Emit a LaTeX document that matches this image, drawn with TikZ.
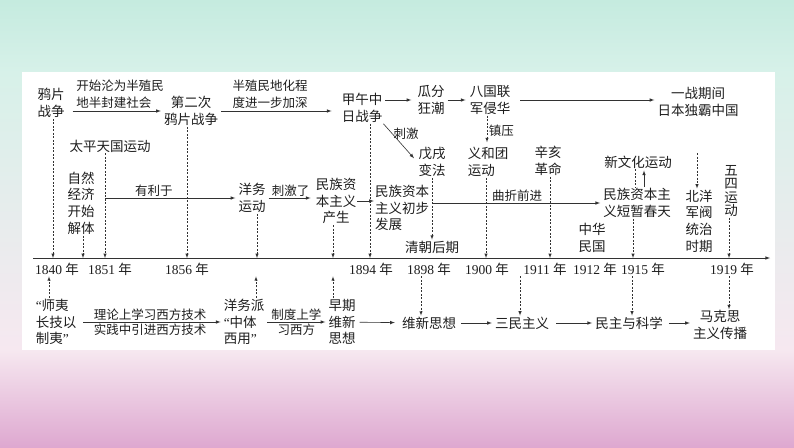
\documentclass[tikz,border=0pt]{standalone}
\usepackage{fontspec}
\setmainfont{Liberation Serif}
\newfontfamily\cjk{Noto Sans CJK SC}
\usetikzlibrary{positioning}

\definecolor{bgMintA}{RGB}{197,235,223}
\definecolor{bgMintB}{RGB}{215,241,233}
\definecolor{bgPinkA}{RGB}{246,232,240}
\definecolor{bgPinkB}{RGB}{222,168,208}
\definecolor{inkC}{RGB}{30,30,30}
\definecolor{lineC}{RGB}{50,50,50}

\newcommand{\yr}[1]{#1\ {\cjk 年}}
\newcommand{\qopen}{{\rmfamily “}}
\newcommand{\qclose}{{\rmfamily ”}}

\begin{document}
\begin{tikzpicture}[x=1pt,y=-1pt,
	    evt/.style= {align=center, inner sep=1pt, text=inkC,
	        font=\fontsize{13.5}{16.7}\selectfont\cjk},
	    lbl/.style= {inner sep=1.5pt, text=inkC, align=left,
	        font=\fontsize{12.5}{16.7}\selectfont\cjk},
	    yrlbl/.style= {inner sep=1pt, text=inkC,
	        font=\fontsize{13.5}{16}\selectfont},
	    flow/.style= {-latex, line width=0.6pt, draw=lineC,
	        shorten <=2pt, shorten >=2pt},
	    drop/.style= {-latex, line width=0.5pt, draw=lineC,
	        dash pattern=on 2pt off 1.5pt},
	    dropline/.style= {line width=0.5pt, draw=lineC,
	        dash pattern=on 2pt off 1.5pt}]

		% Background
		\useasboundingbox (0,0) rectangle (794,447);
		\shade[top color=bgMintA, bottom color=bgMintB] (0,0) rectangle (794,72);
		\shade[top color=bgMintB, bottom color=bgPinkA] (0,72) rectangle (794,350);
		\shade[top color=bgPinkA, bottom color=bgPinkB] (0,350) rectangle (794,447);
		\fill[white] (22,72) rectangle (775,350);

		% Time axis
		\coordinate (t0) at (33,258);
		\coordinate (t1) at (770,258);
		\draw[flow, shorten <=0pt, shorten >=0pt] (t0) -- (t1);

		% Years
		\node[yrlbl] (y1840) at (57,269) {\yr{1840}};
		\node[yrlbl] (y1851) at (110,269) {\yr{1851}};
		\node[yrlbl] (y1856) at (187,269) {\yr{1856}};
		\node[yrlbl] (y1894) at (371,269) {\yr{1894}};
		\node[yrlbl] (y1898) at (429,269) {\yr{1898}};
		\node[yrlbl] (y1900) at (487,269) {\yr{1900}};
		\node[yrlbl] (y1911) at (545,269) {\yr{1911}};
		\node[yrlbl] (y1912) at (595,269) {\yr{1912}};
		\node[yrlbl] (y1915) at (643,269) {\yr{1915}};
		\node[yrlbl] (y1919) at (732,269) {\yr{1919}};

		% Upper events
		\node[evt] (yapian) at (51,103) {鸦片\\战争};
		\node[evt] (erci) at (191,111) {第二次\\鸦片战争};
		\node[evt] (jiawu) at (362,108) {甲午中\\日战争};
		\node[evt] (guafen) at (431,100) {瓜分\\狂潮};
		\node[evt] (baguo) at (490,100) {八国联\\军侵华};
		\node[evt] (yizhan) at (698,102) {一战期间\\日本独霸中国};

		\node[evt] (taiping) at (110,146) {太平天国运动};
		\node[evt] (wuxu) at (432,162) {戊戌\\变法};
		\node[evt, align=left] (yihe) at (488,162) {义和团\\运动};
		\node[evt] (xinhai) at (548,161) {辛亥\\革命};
		\node[evt] (xinwenhua) at (638,162) {新文化运动};
		\node[evt, font=\fontsize{13.5}{13.2}\selectfont\cjk] (wusi) at (731,191) {五\\四\\运\\动};

		\node[evt] (ziran) at (81,203) {自然\\经济\\开始\\解体};
		\node[evt] (yangwu) at (252,198) {洋务\\运动};
		\node[evt] (chansheng) at (336,201) {民族资\\本主义\\产生};
		\node[evt, align=left] (chubu) at (402,208) {民族资本\\主义初步\\发展};
		\node[evt] (chuntian) at (637,203) {民族资本主\\义短暂春天};
		\node[evt] (beiyang) at (699,221) {北洋\\军阀\\统治\\时期};
		\node[evt] (zhonghua) at (592,238) {中华\\民国};
		\node[evt] (qingchao) at (432,247) {清朝后期};

		% Lower events
		\node[evt, align=left] (shiyi) at (56,322) {\qopen 师夷\\长技以\\制夷\qclose};
		\node[evt, align=left] (yangwupai) at (244,322) {洋务派\\\qopen 中体\\西用\qclose};
		\node[evt] (zaoqi) at (342,322) {早期\\维新\\思想};
		\node[evt] (weixin) at (429,323) {维新思想};
		\node[evt] (sanmin) at (522,323) {三民主义};
		\node[evt] (minzhu) at (629,323) {民主与科学};
		\node[evt] (makesi) at (720,325) {马克思\\主义传播};

		% Arrows, upper row
		\draw[flow, shorten <=7pt] (yapian.east |- erci) -- (erci.west)
		    node[lbl, pos=.56, above, yshift=1pt] {开始沦为半殖民\\地半封建社会};
		\draw[flow, shorten >=9pt] (erci.east) -- (erci.east -| jiawu.west)
		    node[lbl, pos=.42, above, yshift=1pt] {半殖民地化程\\度进一步加深};
		\draw[flow, shorten >=5pt] (jiawu.east |- guafen) -- (guafen.west);
		\draw[flow, shorten >=3pt] (guafen) -- (baguo);
		\draw[flow, shorten <=9pt] (baguo.east) -- (baguo.east -| yizhan.west);
		\draw[flow, shorten <=0pt, shorten >=5pt] (jiawu.south east) -- (wuxu.west)
		    node[lbl, pos=.25, right] {刺激};
		\path (baguo.south -| yihe) ++(-1,0) coordinate (bg);
		\draw[drop, shorten >=4pt] (bg) -- (bg |- yihe.north)
		    node[lbl, midway, right] {镇压};

		% Arrows, middle row
		\path (taiping.south) ++(-5,0) coordinate (tp);
		\draw[drop] (tp) -- (tp |- t0);
		\draw[flow, shorten <=0pt] (tp |- yangwu) -- (yangwu.west)
		    node[lbl, pos=.37, above] {有利于};
		\draw[flow, shorten >=4pt] (yangwu) -- (yangwu -| chansheng.west)
		    node[lbl, midway, above] {刺激了};
		\draw[flow, shorten <=0pt, shorten >=0pt] (chansheng.east) -- (chansheng.east -| chubu.west);
		\draw[drop] (wuxu.south) -- (qingchao.north);
		\draw[flow, shorten <=0pt] (wuxu.south |- chuntian) -- (chuntian.west)
		    node[lbl, midway, above] {曲折前进};
		\path (chuntian.north) ++(7,0) coordinate (ct1);
		\draw[flow, shorten <=0pt, shorten >=1pt] (ct1) -- (ct1 |- xinwenhua.south);
		\path (chuntian.north) ++(-2,0) coordinate (ct2);
		\draw[dropline] (ct2 |- xinwenhua.south) -- (ct2);
		\coordinate (by) at (697,153);
		\draw[drop] (by) -- (by |- beiyang.north);

		% Drops to the axis
		\foreach \n/\dx in {yapian/2, ziran/2, erci/-4, yangwu/5, chansheng/-3,
		    jiawu/8, yihe/-2, xinhai/2, chuntian/-4, wusi/-2} {
		    \path (\n.south) ++(\dx,0) coordinate (d\n);
		    \draw[drop] (d\n) -- (d\n |- t0);
		}

		% Arrows, lower row
		\draw[flow, shorten <=6pt] (shiyi) -- (yangwupai)
		    node[lbl, midway, above] {理论上学习西方技术}
		    node[lbl, midway, below] {实践中引进西方技术};
		\draw[flow] (yangwupai) -- (zaoqi)
		    node[lbl, midway, above] {制度上学}
		    node[lbl, midway, below] {习西方};
		\draw[flow, shorten <=3pt, shorten >=6pt] (zaoqi) -- (weixin);
		\draw[flow, shorten <=4pt] (weixin) -- (sanmin);
		\draw[flow, shorten <=6pt] (sanmin) -- (minzhu);
		\draw[flow, shorten <=5pt] (minzhu.east) -- (minzhu.east -| makesi.west);

		% Links to the years
		\foreach \n/\dx in {shiyi/-7, yangwupai/12, zaoqi/-9} {
		    \path (\n.north) ++(\dx,0) coordinate (u\n);
		    \draw[drop] (u\n) -- (u\n |- y1840.south);
		}
		\foreach \n/\y/\dx in {weixin/1898/-8, sanmin/1911/-2, minzhu/1915/3, makesi/1919/9} {
		    \path (\n.north) ++(\dx,0) coordinate (w\n);
		    \draw[drop] (w\n |- y\y.south) -- (w\n);
		}

	\end{tikzpicture}
\end{document}
